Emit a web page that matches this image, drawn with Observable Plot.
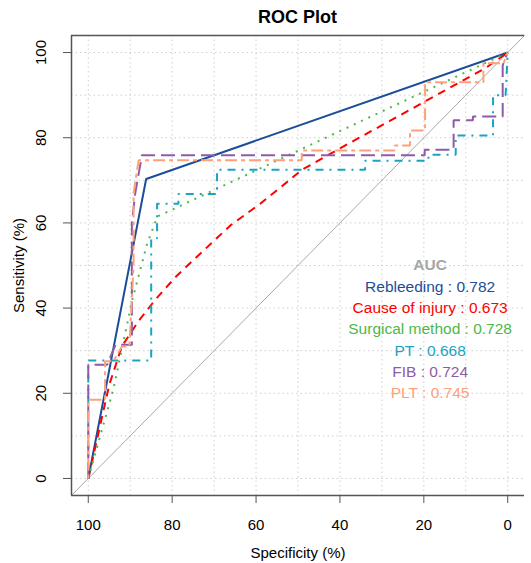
<!DOCTYPE html>
<html>
<head>
<meta charset="utf-8">
<script src="https://cdn.jsdelivr.net/npm/d3@7"></script>
<script src="https://cdn.jsdelivr.net/npm/@observablehq/plot@0.6"></script>
<style>
  html, body { margin: 0; padding: 0; background: #fff; }
  body { width: 531px; height: 563px; overflow: hidden; font-family: "Liberation Sans", Arial, sans-serif; }
  #title { margin-left: 71px; width: 453px; height: 34px; line-height: 34px; text-align: center; font-weight: bold; font-size: 18px; color: #000; }
</style>
</head>
<body>
<div id="title">ROC Plot</div>
<div id="chart"></div>
<script>
// ---- data ----
const specTicks = [100, 80, 60, 40, 20, 0];
const sensTicks = [0, 20, 40, 60, 80, 100];
const gridSteps = [0, 10, 20, 30, 40, 50, 60, 70, 80, 90, 100];

const seriesNames = ["Rebleeding", "Cause of injury", "Surgical method", "PT", "FIB", "PLT"];
const aucValues = ["0.782", "0.673", "0.728", "0.668", "0.724", "0.745"];

// [specificity %, sensitivity %]
const rebleeding = [[100, 0], [86.2, 70.3], [0, 100]];
const causeOfInjury = [[100, 0], [95, 22], [92, 31], [88, 37], [84, 42], [79, 47.5], [72, 54], [66, 59.5], [59, 64.5], [49, 72.5], [40, 77.5], [28, 84], [17, 90], [5.4, 96.3], [0, 100]];
const surgicalMethod = [[100, 0], [94, 21], [89.5, 42], [86, 55], [83.5, 61.5], [0, 100]];
const pt = [[100, 0], [100, 27.7], [85, 27.7], [85, 56.4], [83.6, 56.4], [83.6, 64.5], [78.5, 64.5], [78.5, 66.8], [69.3, 66.8], [69.3, 72.5], [34, 72.5], [34, 74.6], [18.9, 74.6], [18.9, 76], [12.4, 76], [12.4, 80.5], [3.5, 80.5], [3.5, 90], [0.5, 90], [0, 100]];
const fib = [[100, 0], [100, 26.7], [95.5, 26.7], [93.5, 31.4], [89.6, 31.4], [89.6, 60], [88.8, 67], [87.2, 75.9], [19.8, 75.9], [19.8, 77.2], [12.9, 77.2], [12.9, 84.1], [8.3, 84.1], [8.3, 85], [1.2, 85], [1.2, 97], [0, 100]];
const plt = [[100, 0], [100, 18.5], [96, 18.5], [96, 27.5], [94, 27.5], [92, 31], [90.2, 31], [89.2, 50], [89.2, 67], [88, 74.7], [49.1, 74.7], [49.1, 77], [27, 77], [27, 78.2], [23.3, 78.2], [23.3, 81.7], [19.7, 81.7], [19.7, 93], [5.8, 93], [5.8, 97.5], [1, 97.5], [0, 100]];

// ---- styles ----
const seriesData = [rebleeding, causeOfInjury, surgicalMethod, pt, fib, plt];
const colors = ["#1c4d98", "#ff0000", "#4db848", "#1aa3c3", "#8e5ba8", "#ffa07a"];
const dashes = [null, "8,6", "2,6", "2,6,8,6", "14,6", "4,4,12,4"];

const legendRows = [{label: "AUC", color: "#a6a6a6", bold: true}].concat(
  seriesNames.map((n, i) => ({label: `${n} : ${aucValues[i]}`, color: colors[i], bold: false}))
).map((d, i) => ({...d, row: i}));

const diag = [[104, -4], [-4, 104]];

const marks = [
  Plot.gridX(gridSteps, {stroke: "#cfcfcf", strokeOpacity: 1, strokeDasharray: "1.5,3"}),
  Plot.gridY(gridSteps, {stroke: "#cfcfcf", strokeOpacity: 1, strokeDasharray: "1.5,3"}),
  Plot.line(diag, {x: d => d[0], y: d => d[1], stroke: "#a9a9a9", strokeWidth: 1}),
];
seriesData.forEach((pts, i) => {
  marks.push(Plot.line(pts, {
    x: d => d[0], y: d => d[1],
    stroke: colors[i], strokeWidth: 2,
    strokeDasharray: dashes[i] || undefined,
    strokeLinecap: "butt", strokeLinejoin: "miter"
  }));
});
marks.push(
  Plot.text(legendRows.filter(d => d.bold), {x: () => 18.5, y: d => 50 - d.row * 5, text: "label", fill: "color", fontSize: 15.5, fontWeight: "bold", textAnchor: "middle"}),
  Plot.text(legendRows.filter(d => !d.bold), {x: () => 18.5, y: d => 50 - d.row * 5, text: "label", fill: "color", fontSize: 15.5, textAnchor: "middle"}),
  Plot.ruleX([104], {stroke: "#555", strokeWidth: 1.5}),
  Plot.ruleY([-4, 104], {stroke: "#555", strokeWidth: 1.5}),
  Plot.axisX(specTicks, {tickSize: 8, tickPadding: 16, fontSize: 15, stroke: "#555", label: "Specificity (%)", labelAnchor: "center", labelOffset: 62, labelArrow: "none"}),
  Plot.axisY(sensTicks, {tickSize: 8, tickPadding: 18, tickRotate: -90, fontSize: 15, stroke: "#555", label: "Sensitivity (%)", labelAnchor: "center", labelOffset: 58, labelArrow: "none"})
);

const chart = Plot.plot({
  width: 531,
  height: 529,
  marginTop: 1,
  marginBottom: 68,
  marginLeft: 71,
  marginRight: 7,
  style: {fontFamily: "'Liberation Sans', Arial, sans-serif", color: "#000", background: "#fff"},
  x: {domain: [104, -4]},
  y: {domain: [-4, 104]},
  color: {type: "identity"},
  marks
});
document.getElementById("chart").appendChild(chart);
</script>
</body>
</html>
